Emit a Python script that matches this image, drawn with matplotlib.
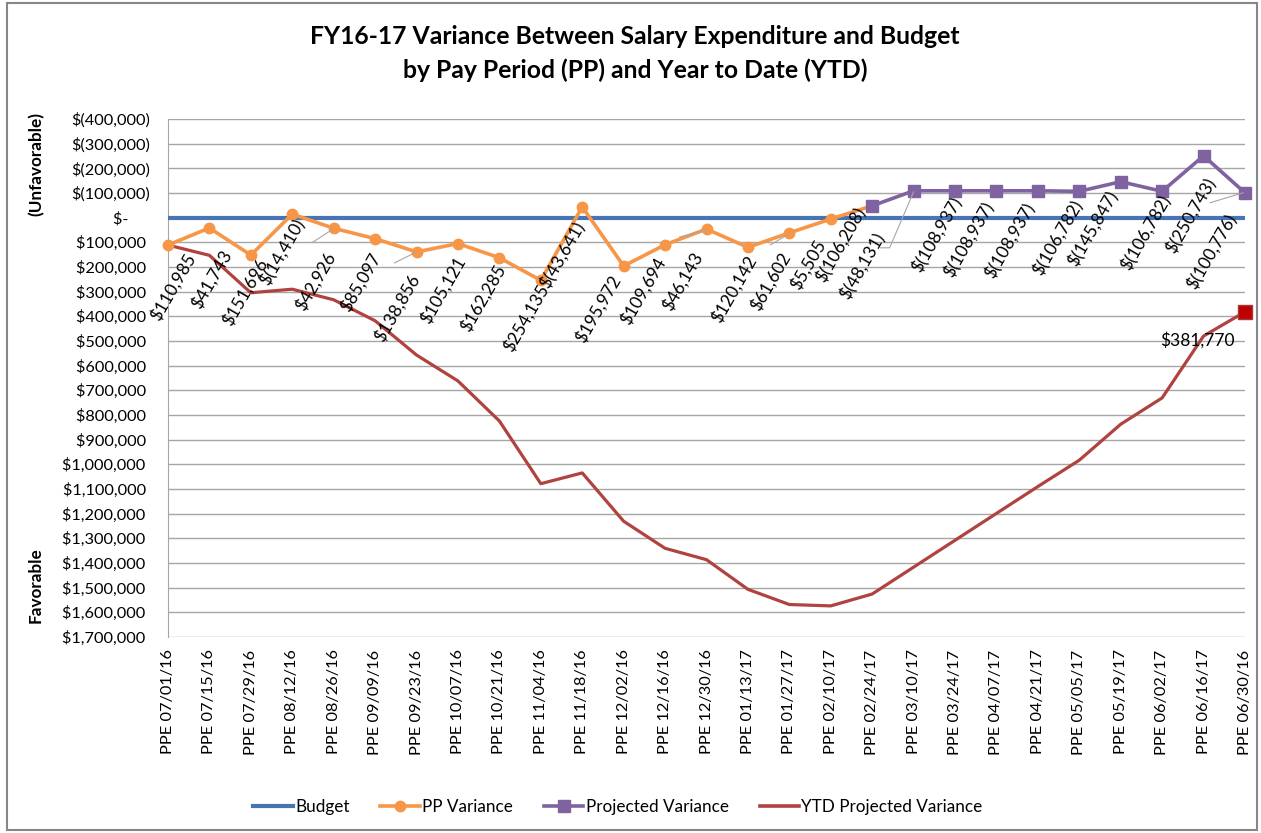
import numpy as np
import matplotlib
matplotlib.use("Agg")
import matplotlib.pyplot as plt
from matplotlib.lines import Line2D
from matplotlib.patches import Rectangle
from matplotlib.ticker import FuncFormatter

plt.rcParams['font.family'] = ['Lato', 'DejaVu Sans']

# ---------------- data ----------------
categories = ["PPE 07/01/16", "PPE 07/15/16", "PPE 07/29/16", "PPE 08/12/16", "PPE 08/26/16",
              "PPE 09/09/16", "PPE 09/23/16", "PPE 10/07/16", "PPE 10/21/16", "PPE 11/04/16",
              "PPE 11/18/16", "PPE 12/02/16", "PPE 12/16/16", "PPE 12/30/16", "PPE 01/13/17",
              "PPE 01/27/17", "PPE 02/10/17", "PPE 02/24/17", "PPE 03/10/17", "PPE 03/24/17",
              "PPE 04/07/17", "PPE 04/21/17", "PPE 05/05/17", "PPE 05/19/17", "PPE 06/02/17",
              "PPE 06/16/17", "PPE 06/30/16"]

nan = np.nan
budget = [0] * 27

pp_variance = [110985, 41743, 151696, -14410, 42926, 85097, 138856, 105121, 162285,
               254135, -43641, 195972, 109694, 46143, 120142, 61602, 5505, -48131,
               nan, nan, nan, nan, nan, nan, nan, nan, nan]

projected_variance = [nan] * 17 + [-48131, -108937, -108937, -108937, -108937,
                                   -106782, -145847, -106782, -250743, -100776]

ytd_projected = [110985, 152728, 304424, 290014, 332940, 418037, 556893, 662014, 824299,
                 1078434, 1034793, 1230765, 1340459, 1386602, 1506744, 1568346, 1573851,
                 1525720, 1416783, 1307846, 1198909, 1089972, 983190, 837343, 730561,
                 479818, 381770]

pp_labels = ["$110,985", "$41,743", "$151,696", "$(14,410)", "$42,926", "$85,097",
             "$138,856", "$105,121", "$162,285", "$254,135", "$(43,641)", "$195,972",
             "$109,694", "$46,143", "$120,142", "$61,602", "$5,505"]
proj_labels = ["$(106,208)", "$(48,131)", "$(108,937)", "$(108,937)", "$(108,937)",
               "$(106,782)", "$(145,847)", "$(106,782)", "$(250,743)", "$(100,776)"]
ytd_final_label = "$381,770"

# ---------------- layout (label offsets in pixels: right, down) ----------------
pp_label_offsets = [(5, 42), (2, 51), (-6, 37), (-10, 38), (-18, 53), (-15, 44), (-20, 56),
                    (-15, 46), (-16, 40), (-15, 37), (-20, 48), (-26, 43), (-22, 46),
                    (-24, 52), (-14, 42), (-19, 49), (-23, 46)]
proj_label_offsets = [(-31, 39), (-51, 75), (-18, 44), (-27, 49), (-28, 50), (-21, 46),
                      (-28, 47), (-16, 41), (-12, 60), (-33, 59)]

C_BUDGET = "#4674B4"
C_PP = "#F79646"
C_PROJ = "#7F63A1"
C_YTD = "#B0423F"
GRID = "#A6A6A6"

W, H = 1261, 833
fig = plt.figure(figsize=(W / 100, H / 100), dpi=100)
fig.patch.set_facecolor("white")
ax = fig.add_axes([168 / W, (H - 637) / H, (1245 - 168) / W, (637 - 119) / H])

x = np.arange(len(categories))

ax.plot(x, budget, color=C_BUDGET, lw=3, zorder=3, solid_capstyle='butt')
ax.plot(x, ytd_projected, color=C_YTD, lw=2.3, zorder=4, clip_on=False)
ax.plot(x, pp_variance, color=C_PP, lw=2.6, marker='o', ms=7.5, zorder=5, clip_on=False)
ax.plot(x, projected_variance, color=C_PROJ, lw=2.6, marker='s', ms=8, zorder=6,
        clip_on=False)
ax.plot([x[-1]], [ytd_projected[-1]], marker='s', ms=10, color="#C00000",
        markeredgecolor="#A33A38", zorder=7, lw=0, clip_on=False)

ax.set_xlim(0, len(categories) - 1)
ax.set_ylim(1700000, -400000)
ax.set_yticks(np.arange(-400000, 1700001, 100000))


def fmt(v, pos=None):
    v = int(round(v))
    if v == 0:
        return "$-     "
    if v < 0:
        return "$({:,})".format(-v)
    return "${:,} ".format(v)


ax.yaxis.set_major_formatter(FuncFormatter(fmt))
ax.set_xticks(x)
ax.set_xticklabels(categories, rotation=90, fontsize=11.8)
ax.tick_params(axis='y', length=0, pad=13, labelsize=11.8)
ax.tick_params(axis='x', length=0, pad=9)
ax.grid(axis='y', color=GRID, lw=1)
ax.set_axisbelow(True)
for s in ["top", "right", "bottom"]:
    ax.spines[s].set_visible(False)
ax.spines["left"].set_color(GRID)

# data labels
lab_kw = dict(rotation=60, ha='center', va='center', fontsize=12.5, color="#000000",
              textcoords='offset pixels', zorder=8)
for i, (t, (dx, dy)) in enumerate(zip(pp_labels, pp_label_offsets)):
    ax.annotate(t, xy=(x[i], pp_variance[i]), xytext=(dx, -dy), **lab_kw)
for j, (t, (dx, dy)) in enumerate(zip(proj_labels, proj_label_offsets)):
    i = 17 + j
    ax.annotate(t, xy=(x[i], projected_variance[i]), xytext=(dx, -dy), **lab_kw)
ax.annotate(ytd_final_label, xy=(x[-1], ytd_projected[-1]), xytext=(-48, -28),
            textcoords='offset pixels', ha='center', va='center', fontsize=12.5, zorder=8)

# leader lines (series values, index, polyline offsets in pixels right/down)
leaders = [(pp_variance, 4, [(-21, 14), (-1, 1)]),
           (pp_variance, 6, [(-22, 11), (0, 0)]),
           (pp_variance, 13, [(-27, 8), (-1, 1)]),
           (pp_variance, 15, [(-19, 12), (-2, 2)]),
           (projected_variance, 18, [(-33, 57), (-24, 57), (0, 1)]),
           (projected_variance, 26, [(-35, 10), (-2, 0)])]
fig.canvas.draw()
for series, i, pts in leaders:
    a0 = ax.transData.transform((x[i], series[i]))
    px = [a0[0] + p[0] for p in pts]
    py = [a0[1] - p[1] for p in pts]
    fig.add_artist(Line2D(px, py, transform=None, color="#A6A6A6", lw=0.8, zorder=2))

# titles
fig.text(635 / W, 1 - 37 / H, "FY16-17 Variance Between Salary Expenditure and Budget",
         ha='center', va='center', fontsize=17.8, fontweight='bold')
fig.text(635 / W, 1 - 70 / H, "by Pay Period (PP) and Year to Date (YTD)",
         ha='center', va='center', fontsize=17.8, fontweight='bold')

fig.text(36 / W, 1 - 164 / H, "(Unfavorable)", rotation=90, ha='center', va='center',
         fontsize=12.3, fontweight='bold')
fig.text(36 / W, 1 - 585 / H, "Favorable", rotation=90, ha='center', va='center',
         fontsize=12.3, fontweight='bold')

# legend
handles = [Line2D([], [], color=C_BUDGET, lw=3),
           Line2D([], [], color=C_PP, lw=2.6, marker='o', ms=7.5),
           Line2D([], [], color=C_PROJ, lw=2.6, marker='s', ms=8),
           Line2D([], [], color=C_YTD, lw=2.6)]
fig.legend(handles, ["Budget", "PP Variance", "Projected Variance", "YTD Projected Variance"],
           loc='center', bbox_to_anchor=(618 / W, 1 - 807 / H), ncol=4, frameon=False,
           handlelength=2.3, handletextpad=0.15, columnspacing=1.8, fontsize=12.3,
           numpoints=1)

# outer border
fig.add_artist(Rectangle((7 / W, 3 / H), (1257 - 7) / W, (830 - 3) / H,
                         transform=fig.transFigure, fill=False, edgecolor="#878787", lw=1.5))

fig.savefig("out.png", dpi=100)
